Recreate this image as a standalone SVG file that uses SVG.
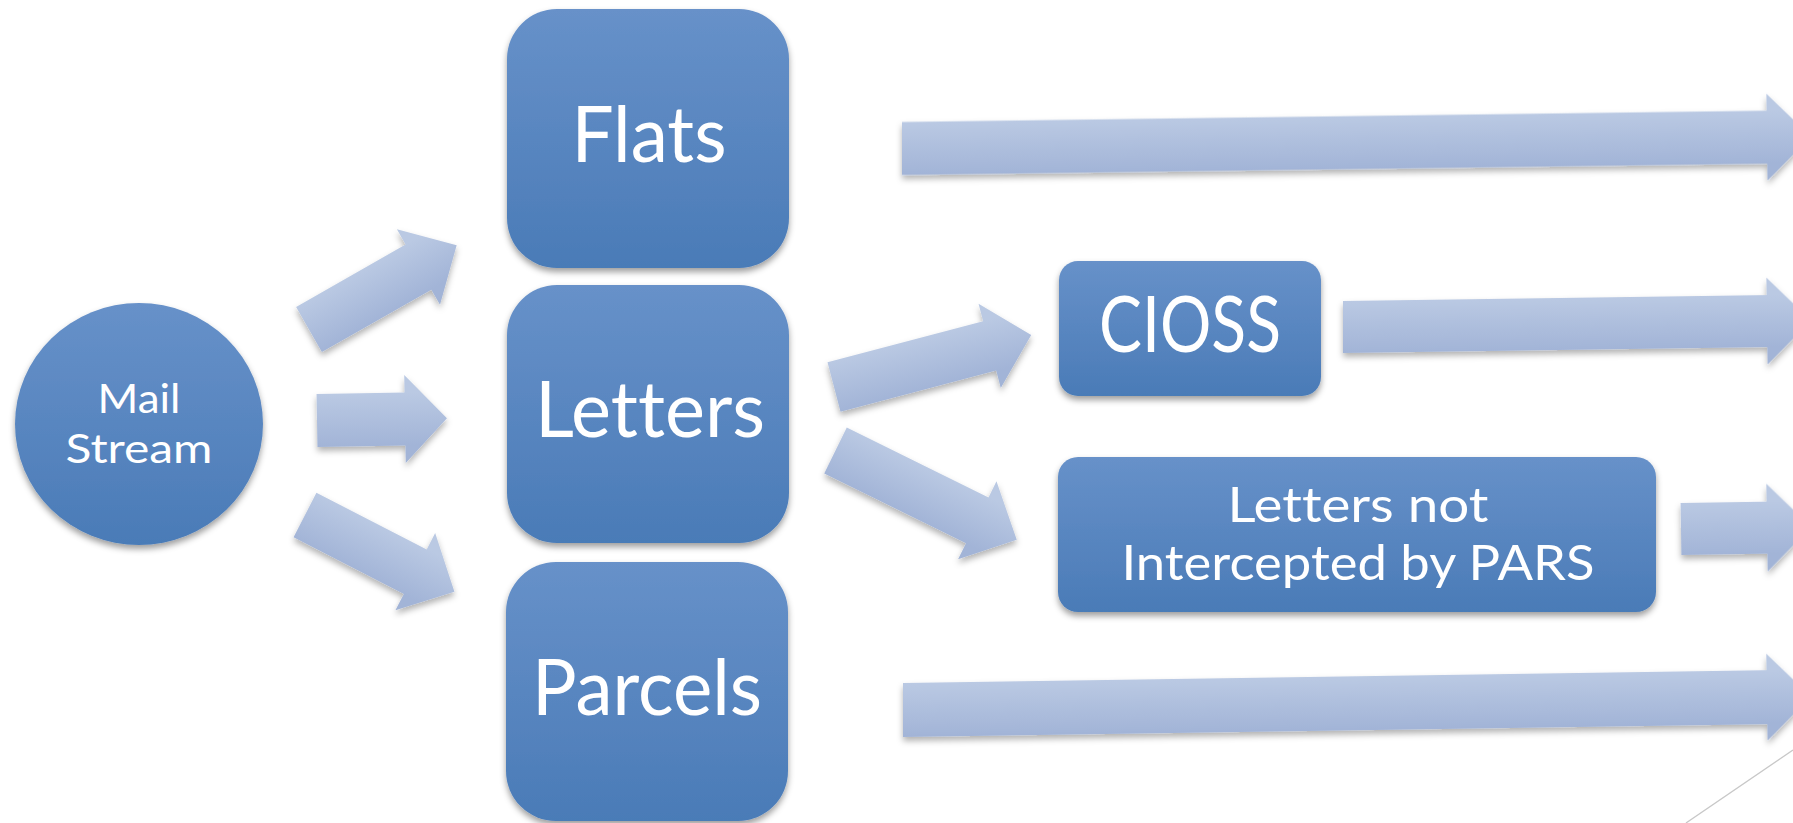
<svg xmlns="http://www.w3.org/2000/svg" width="1793" height="823" viewBox="0 0 1793 823">
  <defs>
    <linearGradient id="boxFill" x1="0" y1="0" x2="0" y2="1">
      <stop offset="0" stop-color="#6791c9"/>
      <stop offset="1" stop-color="#4a7bb7"/>
    </linearGradient>
    <linearGradient id="arrowFill" x1="0" y1="0.2" x2="0" y2="0.8">
      <stop offset="0" stop-color="#bac9e3"/>
      <stop offset="1" stop-color="#a2b4d7"/>
    </linearGradient>
    <filter id="shadow" x="-10%" y="-10%" width="120%" height="130%">
      <feDropShadow dx="0" dy="4" stdDeviation="3" flood-color="#000" flood-opacity="0.38"/>
    </filter>
    <filter id="arrowShadow" x="-5%" y="-10%" width="110%" height="130%">
      <feDropShadow dx="0" dy="4" stdDeviation="3" flood-color="#000" flood-opacity="0.3"/>
    </filter>
  </defs>
  <style>
    .box { fill: url(#boxFill); filter: url(#shadow); }
    .arrow { fill: url(#arrowFill); }
    .label { fill: #ffffff; font-family: Lato, "Open Sans", "Liberation Sans", sans-serif; text-anchor: middle; font-variant-ligatures: none; }
    .big { font-size: 77px; }
    .mid { font-size: 48px; }
    .small { font-size: 41px; }
  </style>

  <rect width="1793" height="823" fill="#ffffff"/>

  <!-- block arrows -->
  <g id="connectors" filter="url(#arrowShadow)">
    <!-- Mail Stream to Flats -->
    <path class="arrow" transform="translate(309,329.5) rotate(-29.7)" d="M0,-26 L126,-26 L126,-43.5 L170,0 L126,43.5 L126,26 L0,26 Z"/>
    <!-- Mail Stream to Letters -->
    <path class="arrow" transform="translate(317,420.5) rotate(-1)" d="M0,-26.5 L88,-26.5 L88,-44 L130,0 L88,44 L88,26.5 L0,26.5 Z"/>
    <!-- Mail Stream to Parcels -->
    <path class="arrow" transform="translate(305,515) rotate(27.2)" d="M0,-25 L124,-25 L124,-43.5 L168,0 L124,43.5 L124,25 L0,25 Z"/>
    <!-- Letters to CIOSS -->
    <path class="arrow" transform="translate(834,387) rotate(-14.8)" d="M0,-25.5 L161,-25.5 L161,-43.5 L204,0 L161,43.5 L161,25.5 L0,25.5 Z"/>
    <!-- Letters to Letters not Intercepted by PARS -->
    <path class="arrow" transform="translate(835.5,450.5) rotate(26.2)" d="M0,-25.5 L158,-25.5 L158,-43.5 L202,0 L158,43.5 L158,25.5 L0,25.5 Z"/>
    <!-- Flats onward -->
    <path class="arrow" transform="translate(902,148.5) rotate(-0.75)" d="M0,-26.5 L865,-26.5 L865,-43.5 L909,0 L865,43.5 L865,26.5 L0,26.5 Z"/>
    <!-- CIOSS onward -->
    <path class="arrow" transform="translate(1343,327) rotate(-0.8)" d="M0,-26 L424,-26 L424,-43.5 L468,0 L424,43.5 L424,26 L0,26 Z"/>
    <!-- Letters not Intercepted by PARS onward -->
    <path class="arrow" transform="translate(1681,529) rotate(-0.9)" d="M0,-26 L86,-26 L86,-44 L130,0 L86,44 L86,26 L0,26 Z"/>
    <!-- Parcels onward -->
    <path class="arrow" transform="translate(903,710) rotate(-0.85)" d="M0,-27 L864,-27 L864,-43.5 L908,0 L864,43.5 L864,27 L0,27 Z"/>
  </g>

  <g id="mail-stream">
    <ellipse class="box" cx="139" cy="424" rx="124" ry="121"/>
    <text class="label small" x="139" y="413" textLength="83" lengthAdjust="spacingAndGlyphs">Mail</text>
    <text class="label small" x="139" y="463" textLength="147" lengthAdjust="spacingAndGlyphs">Stream</text>
  </g>

  <g id="flats">
    <rect class="box" x="507" y="9" width="282" height="259" rx="50" ry="50"/>
    <text class="label big" x="649" y="162" textLength="155" lengthAdjust="spacingAndGlyphs">Flats</text>
  </g>

  <g id="letters">
    <rect class="box" x="507" y="285" width="282" height="258" rx="50" ry="50"/>
    <text class="label big" x="650" y="437" textLength="230" lengthAdjust="spacingAndGlyphs">Letters</text>
  </g>

  <g id="parcels">
    <rect class="box" x="506" y="562" width="282" height="259" rx="50" ry="50"/>
    <text class="label big" x="647" y="715" textLength="230" lengthAdjust="spacingAndGlyphs">Parcels</text>
  </g>

  <g id="cioss">
    <rect class="box" x="1059" y="261" width="262" height="135" rx="19" ry="19"/>
    <text class="label big" x="1190" y="352" textLength="182" lengthAdjust="spacingAndGlyphs">CIOSS</text>
  </g>

  <g id="letters-not-intercepted">
    <rect class="box" x="1058" y="457" width="598" height="155" rx="20" ry="20"/>
    <text class="label mid" x="1358" y="522" textLength="261" lengthAdjust="spacingAndGlyphs">Letters not</text>
    <text class="label mid" x="1358" y="580" textLength="473" lengthAdjust="spacingAndGlyphs">Intercepted by PARS</text>
  </g>

  <!-- thin corner rule -->
  <line x1="1793" y1="750" x2="1686" y2="823" stroke="#c8c8c8" stroke-width="1.5"/>
</svg>
